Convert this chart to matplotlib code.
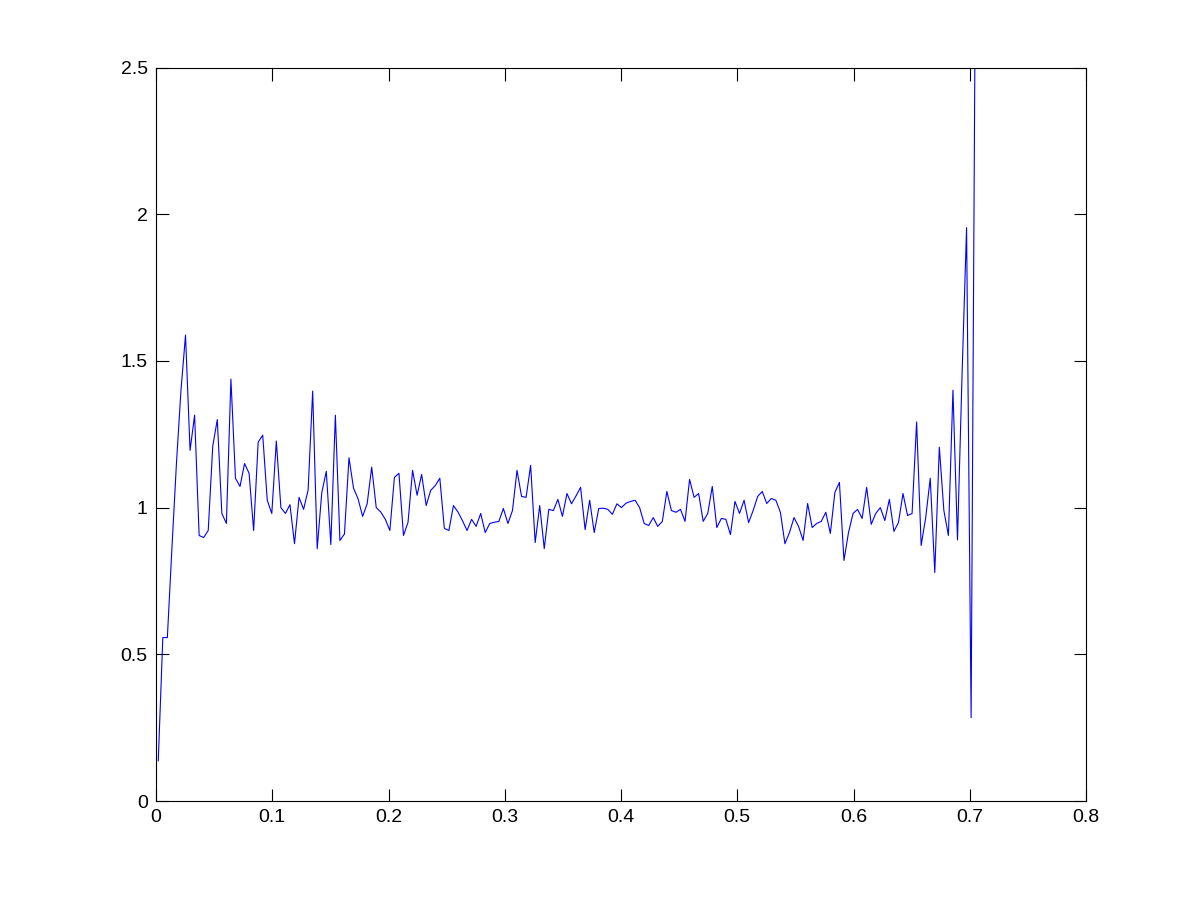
import numpy as np
import matplotlib
matplotlib.use('Agg')
import matplotlib.pyplot as plt

# bin centres of a 256-bin histogram over [0, 1]
nbins = 256
ratio = [
    0.137, 0.557, 0.557, 0.86, 1.15, 1.40, 1.588, 1.195, 1.315, 0.905,
    0.898, 0.922, 1.21, 1.30, 0.98, 0.946, 1.438, 1.10, 1.072, 1.15,
    1.117, 0.922, 1.223, 1.247, 1.025, 0.98, 1.227, 1.0, 0.98, 1.01,
    0.877, 1.035, 0.994, 1.06, 1.397, 0.86, 1.05, 1.124, 0.874, 1.315,
    0.888, 0.91, 1.17, 1.066, 1.03, 0.97, 1.013, 1.138, 1.0, 0.985,
    0.96, 0.922, 1.103, 1.117, 0.905, 0.95, 1.127, 1.042, 1.113, 1.007,
    1.059, 1.075, 1.10, 0.929, 0.922, 1.007, 0.985, 0.955, 0.922, 0.96,
    0.936, 0.98, 0.915, 0.946, 0.95, 0.953, 0.997, 0.946, 0.99, 1.127,
    1.038, 1.035, 1.144, 0.881, 1.007, 0.86, 0.994, 0.99, 1.028, 0.97,
    1.048, 1.013, 1.04, 1.069, 0.925, 1.025, 0.915, 0.997, 0.998, 0.994,
    0.977, 1.013, 1.0, 1.015, 1.021, 1.025, 1.0, 0.946, 0.939, 0.966,
    0.936, 0.953, 1.055, 0.99, 0.984, 0.994, 0.953, 1.096, 1.035, 1.048,
    0.953, 0.98, 1.072, 0.932, 0.963, 0.96, 0.908, 1.021, 0.98, 1.025,
    0.949, 0.99, 1.038, 1.055, 1.014, 1.031, 1.025, 0.984, 0.877, 0.915,
    0.966, 0.936, 0.888, 1.014, 0.932, 0.946, 0.953, 0.984, 0.912, 1.052,
    1.086, 0.82, 0.915, 0.98, 0.994, 0.963, 1.069, 0.943, 0.98, 1.0,
    0.956, 1.028, 0.919, 0.949, 1.048, 0.973, 0.98, 1.292, 0.871, 0.966,
    1.10, 0.779, 1.206, 0.99, 0.905, 1.40, 0.89, 1.45, 1.954, 0.284,
    3.0,
]
freq = (np.arange(len(ratio)) + 0.5) / nbins

plt.rcParams['font.family'] = ['Liberation Sans', 'DejaVu Sans']

fig = plt.figure(figsize=(12, 9), dpi=100)
ax = fig.add_axes([0.13, 0.11, 0.775, 0.815])
ax.plot(freq, ratio, color=(0, 0, 1), linewidth=0.8)

ax.set_xlim(0, 0.8)
ax.set_ylim(0, 2.5)
ax.set_xticks(np.arange(0, 0.81, 0.1))
ax.set_xticklabels(['0', '0.1', '0.2', '0.3', '0.4', '0.5', '0.6', '0.7', '0.8'])
ax.set_yticks(np.arange(0, 2.51, 0.5))
ax.set_yticklabels(['0', '0.5', '1', '1.5', '2', '2.5'])
ax.tick_params(direction='in', top=True, right=True, length=9, width=0.8,
               labelsize=14, pad=6)
for s in ax.spines.values():
    s.set_linewidth(0.8)

fig.savefig('out.png', dpi=100, facecolor='white')
